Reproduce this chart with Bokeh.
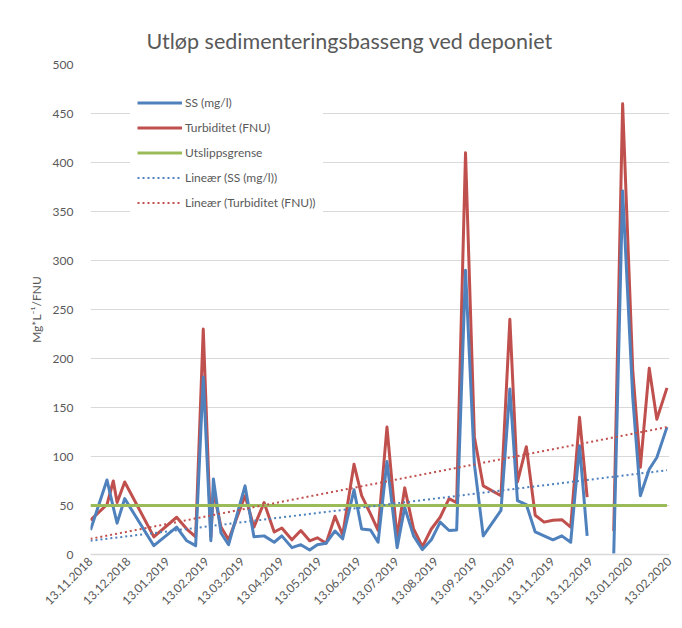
import math
import numpy as np
import pandas as pd
from bokeh.plotting import figure
from bokeh.models import (ColumnDataSource, Range1d, FixedTicker, DatetimeTickFormatter,
                          Legend, LegendItem)
from bokeh.embed import file_html
from bokeh.resources import INLINE

# ---------------- data ----------------
dates = ["2018-11-13", "2018-11-26", "2018-12-01", "2018-12-04", "2018-12-10",
         "2019-01-02", "2019-01-20", "2019-01-28", "2019-02-04", "2019-02-10",
         "2019-02-16", "2019-02-18", "2019-02-24", "2019-03-02", "2019-03-15",
         "2019-03-22", "2019-03-30", "2019-04-07", "2019-04-13", "2019-04-21",
         "2019-04-28", "2019-05-05", "2019-05-11", "2019-05-18", "2019-05-25",
         "2019-05-31", "2019-06-09", "2019-06-15", "2019-06-22", "2019-06-28",
         "2019-07-05", "2019-07-13", "2019-07-19", "2019-07-26", "2019-08-02",
         "2019-08-09", "2019-08-16", "2019-08-23", "2019-08-29", "2019-09-05",
         "2019-09-12", "2019-09-19", "2019-10-03", "2019-10-10", "2019-10-16",
         "2019-10-23", "2019-10-30", "2019-11-06", "2019-11-13", "2019-11-20",
         "2019-11-27", "2019-12-04", "2019-12-10", "2019-12-20", "2019-12-31",
         "2020-01-07", "2020-01-15", "2020-01-21", "2020-01-28", "2020-02-03",
         "2020-02-11"]

ss = [25, 76, 48, 32, 57,
      9, 28, 14, 9, 181,
      14, 77, 22, 10, 70,
      18, 19, 12.5, 19, 7,
      10, 4.5, 10, 11.5, 24,
      16, 66, 26, 25, 12.5,
      95, 7, 48, 19, 5,
      15, 33, 24.5, 25, 290,
      92, 19, 45, 169, 55,
      51, 23, 19, 15, 19,
      12.5, 111, 19, None, 1,
      371, 160, 60, 87, 99,
      130]

turb = [35, 51, 75, 53, 74,
        18, 38, 26, 18, 230,
        18, 65, 28, 15, 60,
        28, 53, 23, 27, 15,
        24.5, 14, 17, 11.5, 39,
        20, 92, 60, 41.5, 24.5,
        130, 17, 68, 26, 8,
        26, 38, 57, 53, 410,
        120, 70, 60, 240, 74,
        110, 40, 33, 35, 35.5,
        28, 140, 58.5, None, 24,
        460, 188, 89, 190, 138,
        170]

limit_dates = ["2018-11-13", "2020-02-11"]
limit_values = [50, 50]

trend_dates = ["2018-11-13", "2020-02-11"]
trend_ss = [14, 86]
trend_turb = [16, 130]

tick_labels = ["13.11.2018", "13.12.2018", "13.01.2019", "13.02.2019", "13.03.2019",
               "13.04.2019", "13.05.2019", "13.06.2019", "13.07.2019", "13.08.2019",
               "13.09.2019", "13.10.2019", "13.11.2019", "13.12.2019", "13.01.2020",
               "13.02.2020"]
y_ticks = [0, 50, 100, 150, 200, 250, 300, 350, 400, 450, 500]

title_text = "Utløp sedimenteringsbasseng ved deponiet"
y_label = "Mg*L\u207b\u00b9/FNU"
series_names = ["SS (mg/l)", "Turbiditet (FNU)", "Utslippsgrense",
                "Lineær (SS (mg/l))", "Lineær (Turbiditet (FNU))"]

# ---------------- build ----------------
FONT = "Lato"
GREY = "#595959"
BLUE = "#4F81BD"
RED = "#C0504D"
GREEN = "#9BBB59"

src = ColumnDataSource(dict(
    x=pd.to_datetime(dates),
    ss=np.array([np.nan if v is None else v for v in ss], dtype=float),
    turb=np.array([np.nan if v is None else v for v in turb], dtype=float),
))
lim_src = ColumnDataSource(dict(x=pd.to_datetime(limit_dates), y=limit_values))
tr_src = ColumnDataSource(dict(x=pd.to_datetime(trend_dates), ss=trend_ss, turb=trend_turb))

tick_dt = pd.to_datetime(tick_labels, format="%d.%m.%Y")
tick_ms = [float((d - pd.Timestamp("1970-01-01")) // pd.Timedelta("1ms")) for d in tick_dt]

p = figure(width=678, height=618, output_backend="svg", toolbar_location=None,
           x_axis_type="datetime",
           x_range=Range1d(tick_dt[0], tick_dt[-1]),
           y_range=Range1d(0, 500),
           min_border_left=90, min_border_right=9, min_border_top=64, min_border_bottom=64)

p.title.text = title_text
p.title.text_font = FONT
p.title.text_font_size = "21.5px"
p.title.text_font_style = "normal"
p.title.text_color = GREY
p.title.align = "left"
p.title.offset = 56
p.title.standoff = 21

p.outline_line_color = None
p.background_fill_color = "white"
p.border_fill_color = "white"

p.xgrid.visible = False
p.ygrid.grid_line_color = "#d9d9d9"
p.ygrid.grid_line_width = 1

p.yaxis.ticker = FixedTicker(ticks=y_ticks)
p.yaxis.axis_line_color = None
p.yaxis.major_tick_line_color = None
p.yaxis.minor_tick_line_color = None
p.yaxis.major_tick_out = 0
p.yaxis.major_tick_in = 0
p.yaxis.major_label_standoff = 17
p.yaxis.major_label_text_font = FONT
p.yaxis.major_label_text_font_size = "12px"
p.yaxis.major_label_text_color = GREY
p.yaxis.axis_label = y_label
p.yaxis.axis_label_text_font = FONT
p.yaxis.axis_label_text_font_size = "12px"
p.yaxis.axis_label_text_font_style = "normal"
p.yaxis.axis_label_text_color = GREY
p.yaxis.axis_label_standoff = 6

p.xaxis.ticker = FixedTicker(ticks=tick_ms)
fmt = "%d.%m.%Y"
p.xaxis.formatter = DatetimeTickFormatter(milliseconds=fmt, seconds=fmt, minsec=fmt, minutes=fmt,
                                          hourmin=fmt, hours=fmt, days=fmt, months=fmt, years=fmt)
p.xaxis.axis_line_color = "#d9d9d9"
p.xaxis.axis_line_width = 1.5
p.xaxis.major_tick_line_color = None
p.xaxis.minor_tick_line_color = None
p.xaxis.major_tick_out = 0
p.xaxis.major_tick_in = 0
p.xaxis.major_label_orientation = math.pi / 4
p.xaxis.major_label_standoff = 5
p.xaxis.major_label_text_font = FONT
p.xaxis.major_label_text_font_size = "12px"
p.xaxis.major_label_text_color = GREY

r_turb = p.line("x", "turb", source=src, line_color=RED, line_width=3, line_join="round")
r_ss = p.line("x", "ss", source=src, line_color=BLUE, line_width=3, line_join="round")
r_lim = p.line("x", "y", source=lim_src, line_color=GREEN, line_width=3)
r_tss = p.line("x", "ss", source=tr_src, line_color=BLUE, line_width=2, line_dash="2 3")
r_ttu = p.line("x", "turb", source=tr_src, line_color=RED, line_width=2, line_dash="2 3")

legend = Legend(items=[LegendItem(label=series_names[0], renderers=[r_ss]),
                       LegendItem(label=series_names[1], renderers=[r_turb]),
                       LegendItem(label=series_names[2], renderers=[r_lim]),
                       LegendItem(label=series_names[3], renderers=[r_tss]),
                       LegendItem(label=series_names[4], renderers=[r_ttu])],
                location=(40, 332))
legend.glyph_width = 45
legend.glyph_height = 25
legend.label_height = 25
legend.label_standoff = 3
legend.spacing = 0
legend.padding = 7
legend.margin = 0
legend.border_line_alpha = 0
legend.background_fill_color = "white"
legend.background_fill_alpha = 1
legend.label_text_font = FONT
legend.label_text_font_size = "12px"
legend.label_text_color = GREY
p.add_layout(legend)

open("out.html", "w").write(file_html(p, INLINE))
